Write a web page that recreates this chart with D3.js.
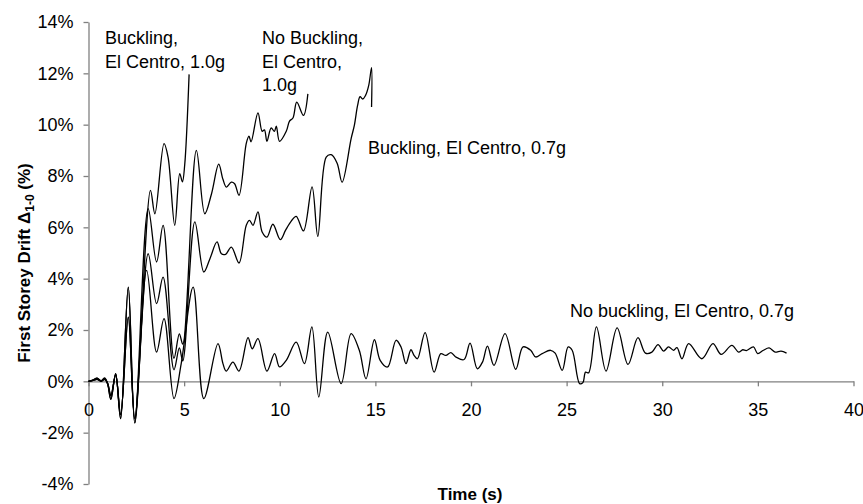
<!DOCTYPE html>
<html>
<head>
<meta charset="utf-8">
<script src="https://cdn.jsdelivr.net/npm/d3@7"></script>
<style>
  body { margin: 0; background: #fff; }
  svg { display: block; font-family: "Liberation Sans", Arial, sans-serif; }
</style>
</head>
<body>
<svg id="chart" width="863" height="504"></svg>
<script>
// drift histories, [time (s), drift (%)]
var buckling10 = [
  [0, 0], [0.25, 0.06], [0.45, 0.12], [0.65, 0.02], [0.85, 0.12], [1.0, -0.1],
  [1.17, -0.7], [1.42, 0.3], [1.68, -1.45], [2.08, 3.67], [2.42, -1.62],
  [3.24, 7.44], [3.47, 6.53], [3.95, 9.26], [4.16, 8.74], [4.51, 6.08],
  [4.77, 8.09], [4.91, 7.77], [5.03, 8.43], [5.26, 11.96]
];
var noBuckling10 = [
  [0, 0], [0.25, 0.06], [0.45, 0.12], [0.65, 0.02], [0.85, 0.12], [1.0, -0.1],
  [1.17, -0.7], [1.42, 0.3], [1.68, -1.45], [2.08, 3.67], [2.42, -1.62],
  [3.12, 6.73], [3.56, 4.65], [3.9, 6.08], [4.47, 0.9], [4.75, 1.85], [4.93, 1.45],
  [5.64, 9.0], [6.08, 6.53], [6.43, 7.3], [6.81, 8.46], [7.03, 7.87], [7.21, 7.57],
  [7.47, 7.76], [7.64, 7.7], [7.87, 7.25], [8.25, 9.27], [8.39, 9.55], [8.5, 9.33],
  [8.86, 10.46], [9.08, 9.74], [9.2, 9.8], [9.33, 9.35], [9.55, 9.87], [9.72, 9.74],
  [9.82, 9.94], [9.99, 9.35], [10.34, 9.74], [10.51, 10.14], [10.69, 10.26],
  [10.89, 10.88], [11.24, 10.36], [11.47, 11.2]
];
var buckling07 = [
  [0, 0], [0.25, 0.04], [0.45, 0.08], [0.65, 0.0], [0.85, 0.08], [1.0, -0.08],
  [1.17, -0.55], [1.42, 0.25], [1.68, -1.3], [2.08, 2.5], [2.42, -1.45],
  [3.12, 4.97], [3.56, 3.03], [3.9, 4.06], [4.47, 0.45], [4.75, 1.3], [4.93, 0.8],
  [5.56, 6.21], [6.03, 4.26], [6.35, 4.78], [6.72, 5.43], [6.95, 4.97], [7.17, 4.95],
  [7.47, 5.23], [7.87, 4.61], [8.25, 6.08], [8.42, 6.27], [8.6, 6.08], [8.86, 6.6],
  [9.08, 5.82], [9.33, 5.62], [9.64, 6.12], [10.03, 5.52], [10.3, 5.88], [10.6, 6.24],
  [10.86, 6.43], [11.24, 5.86], [11.69, 7.58], [11.99, 5.65], [12.43, 8.74],
  [12.69, 8.83], [13.0, 8.5], [13.26, 7.76], [13.73, 9.45], [13.9, 9.97],
  [14.07, 10.75], [14.2, 11.09], [14.34, 11.0], [14.48, 11.13], [14.65, 11.52],
  [14.8, 12.22], [14.8, 10.69]
];
var noBuckling07 = [
  [0, 0], [0.25, 0.04], [0.45, 0.08], [0.65, 0.0], [0.85, 0.08], [1.0, -0.08],
  [1.17, -0.55], [1.42, 0.25], [1.68, -1.3], [2.08, 2.5], [2.42, -1.45],
  [3.04, 4.32], [3.56, 1.14], [3.95, 2.44], [4.47, -0.67], [4.85, 0.7], [5.47, 3.67],
  [6.03, -0.67], [6.77, 1.47], [7.03, 0.69], [7.2, 0.4], [7.55, 0.75], [7.87, 0.4],
  [8.34, 1.7], [8.56, 1.27], [8.86, 1.66], [9.33, 0.4], [9.73, 1.08], [9.99, 0.56],
  [10.34, 0.82], [10.86, 1.53], [11.29, 0.69], [11.68, 2.12], [12.04, -0.61],
  [12.51, 1.92], [13.21, -0.09], [13.73, 1.86], [14.16, 1.21], [14.51, 0.1],
  [14.95, 1.62], [15.25, 0.82], [15.64, 0.56], [16.08, 1.6], [16.34, 1.34],
  [16.6, 0.69], [16.86, 1.23], [17.03, 1.0], [17.2, 0.88], [17.6, 1.9], [18.07, 0.36],
  [18.42, 1.08], [18.68, 1.01], [18.95, 1.12], [19.2, 0.95], [19.64, 0.85],
  [19.95, 1.49], [20.33, 0.49], [20.6, 0.75], [20.86, 1.37], [21.2, 0.62],
  [21.78, 1.86], [22.34, 0.47], [22.72, 1.34], [23.12, 1.21], [23.38, 0.95],
  [23.72, 1.08], [24.16, 1.21], [24.4, 1.1], [24.77, 0.43], [25.08, 1.34],
  [25.29, 1.21], [25.68, -0.09], [25.85, -0.05], [25.99, 0.36], [26.15, 0.33],
  [26.56, 2.12], [27.06, 0.4], [27.64, 2.08], [28.21, 0.66], [28.73, 1.7],
  [29.12, 1.1], [29.46, 1.14], [29.78, 1.43], [30.07, 1.18], [30.33, 1.34],
  [30.59, 1.21], [30.77, 1.31], [31.03, 0.88], [31.38, 1.47], [32.07, 0.88],
  [32.65, 1.47], [33.08, 1.05], [33.64, 1.4], [33.99, 1.14], [34.21, 1.23],
  [34.4, 1.2], [34.77, 1.34], [34.99, 1.08], [35.29, 1.21], [35.59, 1.3],
  [35.9, 1.14], [36.21, 1.18], [36.5, 1.1]
];
var xTicks = [0, 5, 10, 15, 20, 25, 30, 35, 40];
var yTicks = [-4, -2, 0, 2, 4, 6, 8, 10, 12, 14];

var dimensions = {
  width: 863,
  height: 504,
  margin: { top: 22, right: 9.5, bottom: 20, left: 88.5 },
};
dimensions.boundedWidth =
  dimensions.width - dimensions.margin.left - dimensions.margin.right;
dimensions.boundedHeight =
  dimensions.height - dimensions.margin.top - dimensions.margin.bottom;

var svg = d3.select("#chart");

// scales
var xScale = d3
  .scaleLinear()
  .domain([0, 40])
  .range([dimensions.margin.left, dimensions.margin.left + dimensions.boundedWidth]);
var yScale = d3
  .scaleLinear()
  .domain([-4, 14])
  .range([dimensions.margin.top + dimensions.boundedHeight, dimensions.margin.top]);

// y axis
var yAxis = d3
  .axisLeft(yScale)
  .tickValues(yTicks)
  .tickSize(5)
  .tickSizeOuter(0)
  .tickPadding(10)
  .tickFormat(function (d) {
    return d + "%";
  });
var yG = svg
  .append("g")
  .attr("transform", "translate(" + dimensions.margin.left + ",0)")
  .call(yAxis);

// x axis sits on the zero line
var xAxis = d3
  .axisBottom(xScale)
  .tickValues(xTicks)
  .tickSize(5)
  .tickSizeOuter(0)
  .tickPadding(17);
var xG = svg
  .append("g")
  .attr("transform", "translate(0," + yScale(0) + ")")
  .call(xAxis);

[yG, xG].forEach(function (g) {
  g.select(".domain").attr("stroke", "#808080").attr("stroke-width", 1.3);
  g.selectAll(".tick line").attr("stroke", "#808080").attr("stroke-width", 1.3);
  g.selectAll("text")
    .attr("fill", "#000")
    .style("font-size", "18px")
    .style("font-family", '"Liberation Sans", Arial, sans-serif');
});

// lines
var line = d3
  .line()
  .x(function (d) {
    return xScale(d[0]);
  })
  .y(function (d) {
    return yScale(d[1]);
  })
  .curve(d3.curveCatmullRom.alpha(0.5));

[noBuckling07, buckling07, noBuckling10, buckling10].forEach(function (series) {
  svg
    .append("path")
    .datum(series)
    .attr("fill", "none")
    .attr("stroke", "#000")
    .attr("stroke-width", 1.3)
    .attr("d", line);
});

// axis titles
svg
  .append("text")
  .attr("x", 470)
  .attr("y", 500)
  .attr("text-anchor", "middle")
  .style("font-size", "17px")
  .style("font-weight", "bold")
  .text("Time (s)");

var yLabel = svg
  .append("text")
  .attr("transform", "translate(30,263) rotate(-90)")
  .attr("text-anchor", "middle")
  .style("font-size", "17px")
  .style("font-weight", "bold");
yLabel.append("tspan").text("First Storey Drift \u0394");
yLabel.append("tspan").attr("dy", 4).style("font-size", "12px").text("1-0");
yLabel.append("tspan").attr("dy", -4).text(" (%)");

// curve labels
var notes = [
  { lines: ["Buckling,", "El Centro, 1.0g"], x: 105, y: 44 },
  { lines: ["No Buckling,", "El Centro,", "1.0g"], x: 262, y: 44 },
  { lines: ["Buckling, El Centro, 0.7g"], x: 368, y: 154 },
  { lines: ["No buckling, El Centro, 0.7g"], x: 570, y: 317 },
];
notes.forEach(function (n) {
  var t = svg
    .append("text")
    .attr("x", n.x)
    .attr("y", n.y)
    .style("font-size", "18px");
  n.lines.forEach(function (s, i) {
    t.append("tspan")
      .attr("x", n.x)
      .attr("dy", i === 0 ? 0 : 23.5)
      .text(s);
  });
});
</script>
